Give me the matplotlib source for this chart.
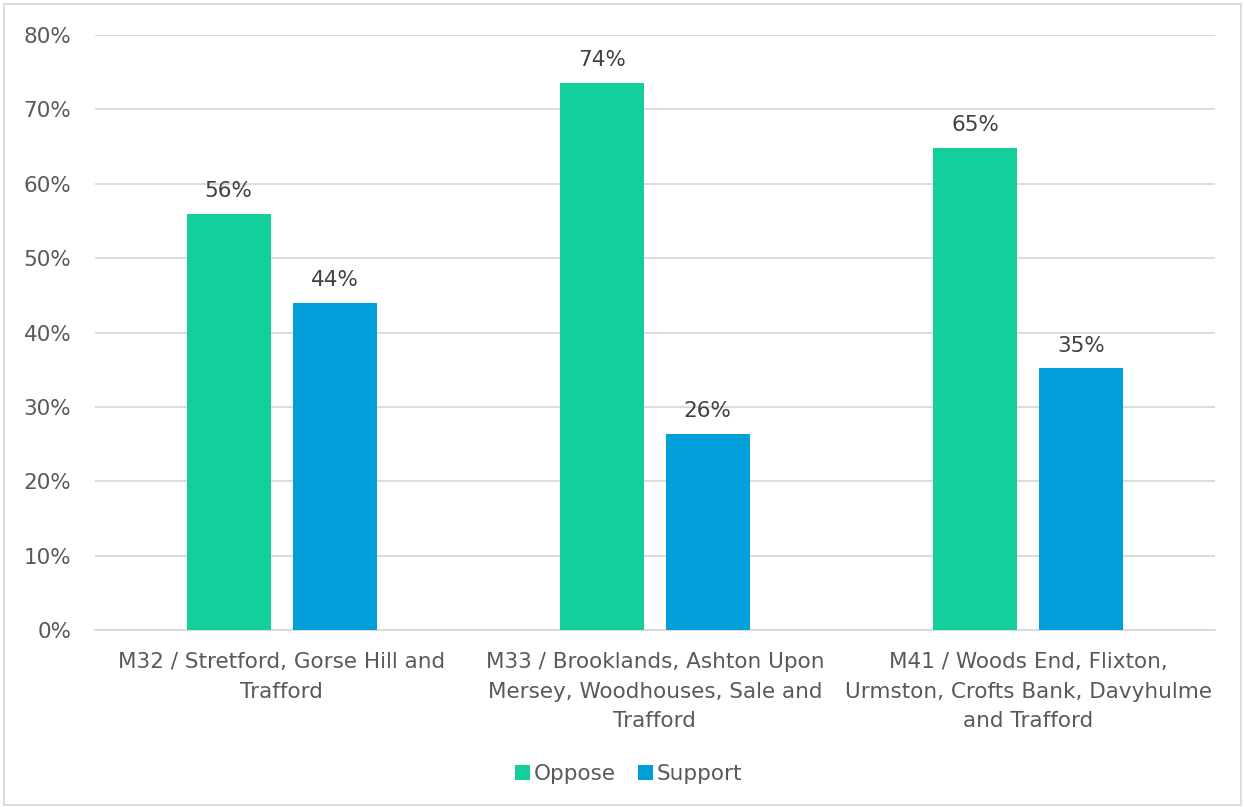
import numpy as np
import matplotlib.pyplot as plt
from matplotlib.ticker import PercentFormatter

plt.rcParams['font.family'] = ['DejaVu Sans']

categories = ['M32 / Stretford, Gorse Hill and\nTrafford',
              'M33 / Brooklands, Ashton Upon\nMersey, Woodhouses, Sale and\nTrafford',
              'M41 / Woods End, Flixton,\nUrmston, Crofts Bank, Davyhulme\nand Trafford']
oppose = [56.0, 73.6, 64.8]
support = [44.0, 26.4, 35.2]

text_col = '#595959'
grid_col = '#D9D9D9'

fig = plt.figure(figsize=(12.45, 8.07), dpi=100)
ax = fig.add_axes([0.0763, 0.2193, 0.8993, 0.7373])

x = np.arange(len(categories))
w = 0.225
b1 = ax.bar(x - 0.142, oppose, w, color='#12CF9C', label='Oppose', zorder=3)
b2 = ax.bar(x + 0.142, support, w, color='#009FDA', label='Support', zorder=3)

for bars in (b1, b2):
    for r in bars:
        ax.text(r.get_x() + r.get_width() / 2, r.get_height() + 1.7,
                f'{r.get_height():.0f}%', ha='center', va='bottom',
                fontsize=15.5, color='#404040')

ax.set_xlim(-0.5, 2.5)
ax.set_ylim(0, 80)
ax.set_yticks(range(0, 81, 10))
ax.yaxis.set_major_formatter(PercentFormatter(decimals=0))
ax.set_xticks(x)
ax.set_xticklabels(categories, linespacing=1.58)
ax.tick_params(axis='both', length=0, labelsize=15.5, labelcolor=text_col)
ax.tick_params(axis='x', pad=16)
ax.tick_params(axis='y', pad=17)
ax.grid(axis='y', color=grid_col, linewidth=1.3, zorder=0)
for s in ['top', 'right', 'left']:
    ax.spines[s].set_visible(False)
ax.spines['bottom'].set_color(grid_col)
ax.spines['bottom'].set_linewidth(1.3)

leg = fig.legend(handles=[b1, b2], loc='center', bbox_to_anchor=(0.505, 0.041),
                 ncol=2, frameon=False, fontsize=15.5, handlelength=0.7,
                 handleheight=0.7, handletextpad=0.2, columnspacing=1.0)
for t in leg.get_texts():
    t.set_color(text_col)

fig.patches.append(plt.Rectangle((0.003, 0.003), 0.994, 0.992, transform=fig.transFigure,
                                 fill=False, edgecolor=grid_col, linewidth=1.3))

fig.savefig('out.png', dpi=100)
